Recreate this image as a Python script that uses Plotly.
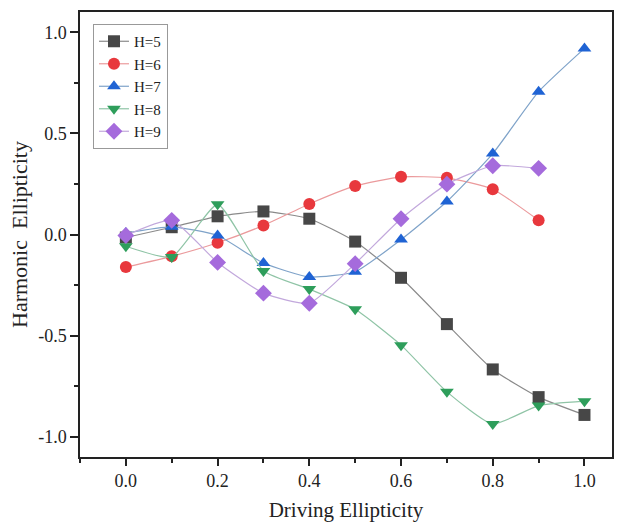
import plotly.graph_objects as go

x = [0.0, 0.1, 0.2, 0.3, 0.4, 0.5, 0.6, 0.7, 0.8, 0.9, 1.0]
h5 = [-0.015, 0.036, 0.09, 0.114, 0.078, -0.035, -0.214, -0.443, -0.667, -0.804, -0.892]
h6 = [-0.161, -0.108, -0.041, 0.045, 0.151, 0.24, 0.285, 0.28, 0.224, 0.07]
h7 = [0.008, 0.038, -0.005, -0.141, -0.21, -0.184, -0.025, 0.163, 0.40, 0.706, 0.92]
h8 = [-0.058, -0.111, 0.149, -0.18, -0.27, -0.37, -0.547, -0.778, -0.937, -0.846, -0.824]
h9 = [-0.005, 0.07, -0.138, -0.29, -0.34, -0.144, 0.078, 0.249, 0.34, 0.327]

series = [
    ("H=5", h5, "square", "#474747", "#8a8a8a"),
    ("H=6", h6, "circle", "#e8383d", "#eb9a9c"),
    ("H=7", h7, "triangle-up", "#1f63d4", "#7fa3c9"),
    ("H=8", h8, "triangle-down", "#2e9e5b", "#8fc4a6"),
    ("H=9", h9, "diamond", "#a56bdc", "#c2a8dc"),
]

fig = go.Figure()
for name, ys, sym, mc, lc in series:
    fig.add_trace(go.Scatter(
        x=x[:len(ys)], y=ys, name=name, mode="lines+markers",
        line=dict(color=lc, width=1.2, shape="spline", smoothing=0.5),
        marker=dict(symbol=sym, color=mc, size=12 if sym != "diamond" else 13,
                    line=dict(width=0)),
    ))

font = "Liberation Serif, Times New Roman, serif"
fig.update_layout(
    width=626, height=525,
    margin=dict(l=80, r=14, t=12, b=68),
    paper_bgcolor="white", plot_bgcolor="white",
    font=dict(family=font, size=18, color="#222"),
    showlegend=True,
    legend=dict(x=0.0244, y=0.973, xanchor="left", yanchor="top",
                bordercolor="#999", borderwidth=1, bgcolor="white",
                font=dict(family=font, size=15), tracegroupgap=0,
                itemwidth=30),
    xaxis=dict(
        range=[-0.1, 1.06], tickvals=[0.0, 0.2, 0.4, 0.6, 0.8, 1.0],
        ticktext=["0.0", "0.2", "0.4", "0.6", "0.8", "1.0"],
        ticks="outside", ticklen=7, tickwidth=1.5, tickcolor="#222",
        minor=dict(dtick=0.1, tick0=0, ticks="outside", ticklen=4, tickcolor="#222", tickwidth=1.5),
        showline=True, linecolor="#222", linewidth=1.5, mirror=True,
        showgrid=False, zeroline=False, automargin=False,
        title=dict(text="Driving Ellipticity", font=dict(size=21), standoff=12),
    ),
    yaxis=dict(
        range=[-1.1, 1.1], tickvals=[-1.0, -0.5, 0.0, 0.5, 1.0],
        ticktext=["-1.0", "-0.5", "0.0", "0.5", "1.0"],
        ticks="outside", ticklen=8, tickwidth=1.5, tickcolor="#222",
        minor=dict(dtick=0.25, tick0=0, ticks="outside", ticklen=4, tickcolor="#222", tickwidth=1.5),
        showline=True, linecolor="#222", linewidth=1.5, mirror=True,
        showgrid=False, zeroline=False, automargin=False,
        title=dict(text="Harmonic\u00a0 Ellipticity", font=dict(size=22), standoff=4),
    ),
)

fig.write_html("out.html")
